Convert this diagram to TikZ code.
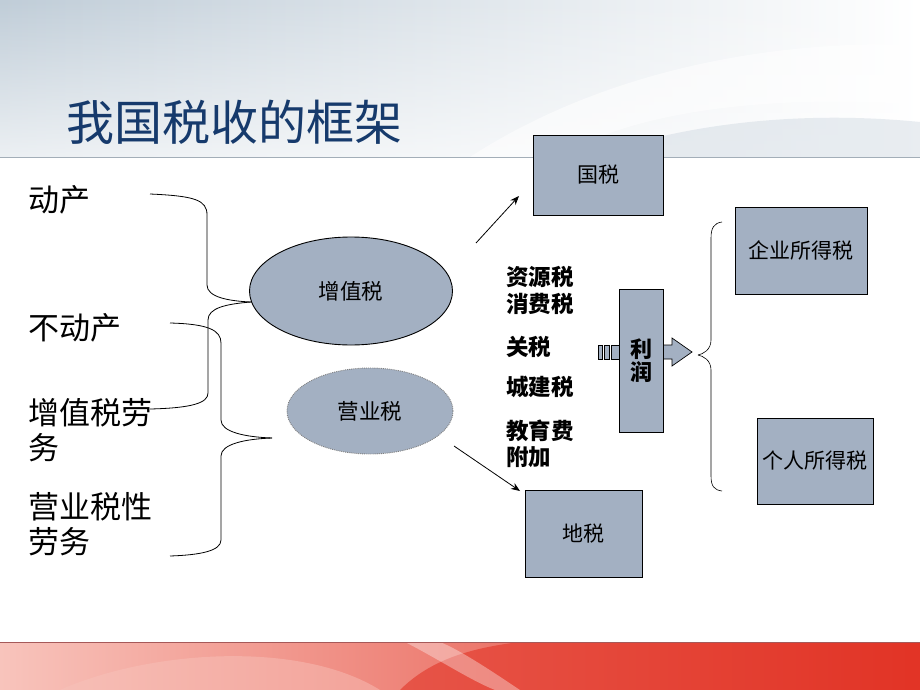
\documentclass[tikz,border=0pt]{standalone}
\usepackage{fontspec}
\usetikzlibrary{arrows.meta,shapes.geometric,fadings}
\newfontfamily\cjk{Noto Sans CJK SC}
\definecolor{boxfill}{RGB}{163,176,194}
\definecolor{titleblue}{RGB}{22,58,108}
\definecolor{bandL}{RGB}{248,196,188}
\definecolor{bandR}{RGB}{226,52,38}
\definecolor{topL}{RGB}{192,205,216}
\tikzfading[name=fadeup, top color=transparent!100, bottom color=transparent!30]
\tikzset{
  box/.style={draw=black,line width=0.9pt,fill=boxfill,inner sep=0pt,font=\cjk\fontsize{21}{24}\selectfont},
  side/.style={anchor=west,inner sep=0pt,font=\cjk\fontsize{31}{34}\selectfont},
  col/.style={anchor=west,inner sep=0pt,font=\cjk\bfseries\fontsize{22.5}{24}\selectfont},
  ell/.style={ellipse,fill=boxfill,inner sep=0pt,font=\cjk\fontsize{21.5}{24}\selectfont},
  brace/.style={draw=black,line width=0.8pt},
  conn/.style={draw=black,line width=0.8pt,-{Stealth[length=9pt,width=7pt]}}
}
\begin{document}
\begin{tikzpicture}[x=1pt,y=-1pt]
\useasboundingbox (0,0) rectangle (920,690);
% top background
\shade[left color=topL,right color=white] (0,0) rectangle (920,157);
\fill[white,path fading=fadeup] (0,0) rectangle (920,157);
\fill[white,opacity=0.55] (470,157) .. controls (620,60) and (800,40) .. (920,45) -- (920,105) .. controls (800,95) and (640,105) .. (560,157) -- cycle;
\fill[topL,opacity=0.35] (590,157) .. controls (700,118) and (820,112) .. (920,122) -- (920,157) -- cycle;
\draw[color=topL!85!black,line width=1pt] (0,157) -- (920,157);
% bottom band
\shade[left color=bandL,right color=bandR] (0,642) rectangle (920,690);
\fill[bandR,opacity=0.6] (400,690) .. controls (430,660) and (470,648) .. (520,642) -- (920,642) -- (920,690) -- cycle;
\fill[bandL,opacity=0.45] (60,690) .. controls (150,650) and (300,640) .. (380,690) -- cycle;
\fill[white,opacity=0.35] (405,642) .. controls (440,660) and (470,680) .. (495,690) -- (520,690) .. controls (490,670) and (460,650) .. (440,642) -- cycle;
\draw[color=gray!70!red,line width=1pt] (0,642) -- (920,642);
% title
\node[anchor=west,inner sep=0pt,text=titleblue,font=\cjk\fontsize{48}{52}\selectfont] (title) at (66,122) {我国税收的框架};
% left texts
\node[side] (t1) at (28,200) {动产};
\node[side] (t2) at (28,328) {不动产};
\node[side] (t3) at (28,413) {增值税劳};
\node[side] (t3b) at (28,448) {务};
\node[side] (t4) at (28,507) {营业税性};
\node[side] (t4b) at (28,542) {劳务};
% ellipses
\node[ell,draw=black,line width=0.9pt,minimum width=203pt,minimum height=108pt] (zz) at (351,291) {增值税};
\node[ell,draw=gray,densely dotted,line width=0.9pt,minimum width=166pt,minimum height=86pt] (yy) at (370,411) {营业税};
% braces
\coordinate (b1a) at (150,194);
\coordinate (b1tip) at (251,302);
\coordinate (b1b) at (150,409);
\draw[brace] (b1a) .. controls (195,196) and (207,200) .. (207,215) -- (207,285) .. controls (207,297) and (228,301) .. (b1tip);
\draw[brace] (b1tip) .. controls (226,304) and (208,308) .. (208,320) -- (208,393) .. controls (208,403) and (192,408) .. (b1b);
\coordinate (b2a) at (170,323);
\coordinate (b2tip) at (272,438);
\coordinate (b2b) at (170,556);
\draw[brace] (b2a) .. controls (208,324) and (221,330) .. (221,343) -- (221,420) .. controls (221,432) and (245,437) .. (b2tip);
\draw[brace] (b2tip) .. controls (245,439) and (221,444) .. (221,456) -- (221,540) .. controls (221,551) and (200,555) .. (b2b);
% boxes
\node[box,minimum width=130pt,minimum height=80pt] (gs) at (598,175) {国税};
\node[box,minimum width=117pt,minimum height=87pt] (ds) at (583.5,533.5) {地税};
\node[box,minimum width=132pt,minimum height=87pt] (qy) at (801,250.5) {企业所得税};
\node[box,minimum width=116pt,minimum height=86pt] (gr) at (815,461) {个人所得税};
% arrows
\coordinate (a1s) at (476,243);
\coordinate (a1e) at (519,196);
\draw[conn] (a1s) -- (a1e);
\coordinate (a2s) at (454,446);
\coordinate (a2e) at (520,491);
\draw[conn] (a2s) -- (a2e);
% column texts
\node[col] (c1) at (506,277) {资源税};
\node[col] (c2) at (506,304) {消费税};
\node[col] (c3) at (506,347) {关税};
\node[col] (c4) at (506,387) {城建税};
\node[col] (c5) at (506,431) {教育费};
\node[col] (c6) at (506,457) {附加};
% striped arrow
\draw[black,line width=0.7pt,fill=boxfill] (663,345) -- (672,345) -- (672,338) -- (692,352) -- (672,366) -- (672,359) -- (663,359) -- cycle;
\foreach \xa/\xb in {598/602,604/609,611/619}
  \draw[black,line width=0.7pt,fill=boxfill] (\xa,345) rectangle (\xb,359);
\node[box,minimum width=44pt,minimum height=143pt,font=\cjk\bfseries\fontsize{22}{24}\selectfont,align=center] (lr) at (641,361) {利\\[-1pt]润};
% right brace
\coordinate (b3a) at (722,222);
\coordinate (b3tip) at (698,355);
\coordinate (b3b) at (722,491);
\draw[brace,line width=0.6pt] (b3a) .. controls (714,223) and (711,228) .. (711,238) -- (711,340) .. controls (711,350) and (703,354) .. (b3tip);
\draw[brace,line width=0.6pt] (b3tip) .. controls (703,356) and (711,360) .. (711,370) -- (711,476) .. controls (711,486) and (714,490) .. (b3b);
\end{tikzpicture}
\end{document}
